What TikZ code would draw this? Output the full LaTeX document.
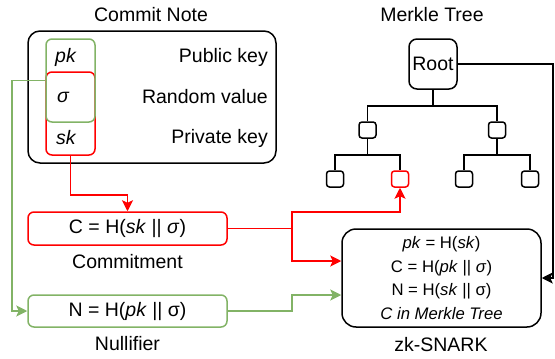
\documentclass[tikz,border=0pt]{standalone}
\usepackage{fontspec}
\setmainfont{Liberation Sans}
\usetikzlibrary{arrows.meta}
\definecolor{nred}{HTML}{FF0000}
\definecolor{ngreen}{HTML}{82B366}
\begin{document}
\begin{tikzpicture}[x=1pt,y=-1pt,
  every node/.style={font=\fontsize{19.5}{23}\selectfont, inner sep=0pt},
  box/.style={draw, line width=1.5pt, rounded corners=6pt},
  hashbox/.style={box, minimum width=199pt, minimum height=33pt},
  treenode/.style={box, rounded corners=3pt, minimum width=17pt, minimum height=16pt},
  link/.style={line width=1.5pt},
  tip/.style={link, -{Stealth[length=11pt,width=11pt,inset=2.5pt]}},
  caption/.style={anchor=base},
  field/.style={anchor=west, font=\fontsize{19.5}{23}\selectfont\itshape},
  desc/.style={anchor=east}]
\useasboundingbox (0,0) rectangle (555,359);

% ---- commit note ----
\node[caption] (notetitle) at (151,21) {Commit Note};
\node[box, rounded corners=12pt, minimum width=248pt, minimum height=132pt] (note) at (152,97) {};
\node[box, draw=nred, minimum width=49pt, minimum height=83pt] (redbox) at (70.5,113.5) {};
\node[box, draw=ngreen, minimum width=49pt, minimum height=83pt] (greenbox) at (70.5,80.5) {};
\node[field] (pk) at (55,57) {pk};
\node[field] (sigma) at (57,97) {σ};
\node[field] (sk) at (56,138) {sk};
\node[desc] (pub) at (268,57) {Public key};
\node[desc] (rnd) at (268,97) {Random value};
\node[desc] (priv) at (268,138) {Private key};

% ---- commitment and nullifier ----
\node[hashbox, draw=nred] (cbox) at (127.5,228.5) {C = H(\textit{sk} || \textit{σ})};
\node[caption] (clabel) at (127.5,268) {Commitment};
\node[hashbox, draw=ngreen, minimum height=32pt] (nbox) at (127.5,311) {N = H(\textit{pk} || σ)};
\node[caption] (nlabel) at (127.5,350) {Nullifier};

% ---- merkle tree ----
\node[caption] (treetitle) at (432,21) {Merkle Tree};
\node[box, rounded corners=8pt, minimum width=48pt, minimum height=50pt] (root) at (433,64) {Root};
\node[treenode] (m1) at (367.5,130) {};
\node[treenode] (m2) at (497,130) {};
\node[treenode] (l1) at (335,179) {};
\node[treenode, draw=nred] (l2) at (400,179) {};
\node[treenode] (l3) at (464,179) {};
\node[treenode] (l4) at (530,179) {};

\draw[link] (root.south) -- ++(0,16) -| (m1.north);
\draw[link] (root.south) -- ++(0,16) -| (m2.north);
\draw[link] (m1.south) -- ++(0,16) -| (l1.north);
\draw[link] (m1.south) -- ++(0,16) -| (l2.north);
\draw[link] (m2.south) -- ++(0,16) -| (l3.north);
\draw[link] (m2.south) -- ++(0,16) -| (l4.north);

% ---- zk-SNARK ----
\node[box, rounded corners=14pt, minimum width=199pt, minimum height=98pt,
      align=center, font=\fontsize{16.7}{23.5}\selectfont] (zk) at (441.5,278)
  {\textit{pk} = H(\textit{sk})\\ C = H(\textit{pk} || \textit{σ})\\ N = H(\textit{sk} || σ)\\ \textit{C in Merkle Tree}};
\node[caption] (zklabel) at (441,351) {zk-SNARK};

% ---- connectors ----
\coordinate (rj) at (292,228.5);
\coordinate (rtop) at (292,212);
\coordinate (gj) at (292,311);
\coordinate (gl) at (12,80.5);
\coordinate (rootturn) at (553,64);

\draw[tip, nred] (redbox.south) -- ++(0,39) -| (cbox.north);
\draw[tip, ngreen] (greenbox.west) -- (gl) |- (nbox.west);
\draw[link, nred] (cbox.east) -- (rj);
\draw[tip, nred] (rj) -- (rtop) -| (l2.south);
\draw[tip, nred] (rj) |- ([yshift=17pt]zk.west);
\draw[tip, ngreen] (nbox.east) -- (gj) |- ([yshift=-17pt]zk.west);
\draw[tip] (root.east) -- (rootturn) |- (zk.east);
\end{tikzpicture}
\end{document}
